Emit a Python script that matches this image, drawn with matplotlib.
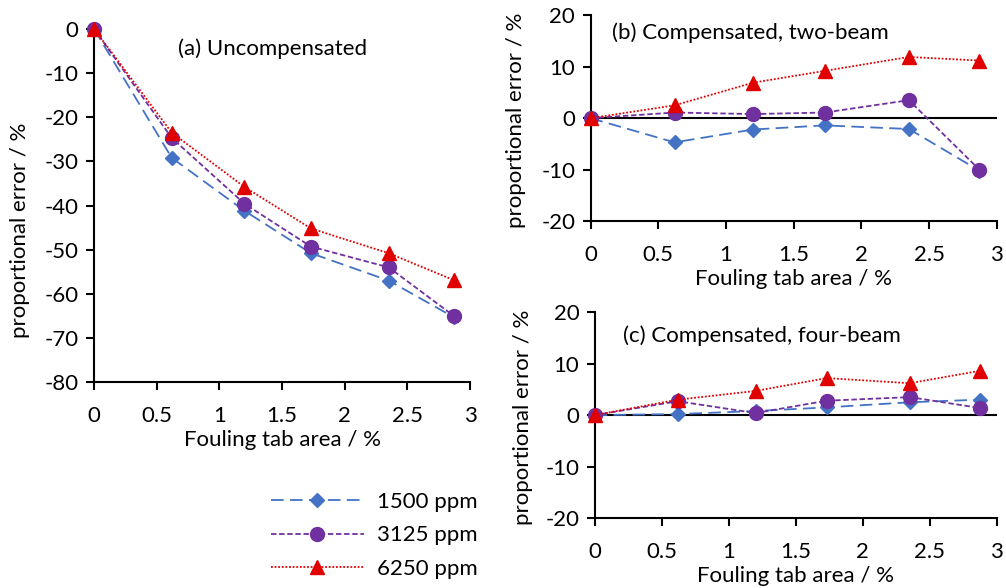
import matplotlib
matplotlib.use("Agg")
import matplotlib.pyplot as plt

plt.rcParams['font.family'] = ['Lato', 'DejaVu Sans']
plt.rcParams['axes.unicode_minus'] = False

area = [0, 0.62, 1.2, 1.73, 2.35, 2.87]
series = ["1500 ppm", "3125 ppm", "6250 ppm"]

uncomp = {
    "1500 ppm": [0, -29.2, -41.2, -50.8, -57.0, -65.3],
    "3125 ppm": [0, -24.7, -39.6, -49.3, -54.0, -65.0],
    "6250 ppm": [0, -23.5, -35.8, -45.2, -50.8, -56.9],
}
two_beam = {
    "1500 ppm": [0, -4.7, -2.2, -1.4, -2.1, -10.2],
    "3125 ppm": [0, 1.1, 0.8, 1.1, 3.5, -10.0],
    "6250 ppm": [0, 2.5, 6.9, 9.2, 11.9, 11.2],
}
four_beam = {
    "1500 ppm": [0, 0.2, 0.8, 1.5, 2.5, 3.0],
    "3125 ppm": [0, 2.7, 0.4, 2.8, 3.5, 1.4],
    "6250 ppm": [0, 3.0, 4.7, 7.2, 6.2, 8.6],
}

styles = {
    "1500 ppm": dict(color='#4472C4', marker='D', ms=7, dashes=(7, 3.5)),
    "3125 ppm": dict(color='#7030A0', marker='o', ms=10, dashes=(3, 1.5)),
    "6250 ppm": dict(color='#E00000', marker='^', ms=10, dashes=(1, 1)),
}

FS = 16


def style_axes(ax, ylim, yticks, ylab_x, ylab_y):
    ax.set_xlim(0, 3)
    ax.set_ylim(*ylim)
    ax.set_yticks(yticks)
    ax.set_xticks([0, 0.5, 1, 1.5, 2, 2.5, 3])
    ax.set_xticklabels(['0', '0.5', '1', '1.5', '2', '2.5', '3'])
    for s in ['top', 'right']:
        ax.spines[s].set_visible(False)
    for s in ['left', 'bottom']:
        ax.spines[s].set_linewidth(1.5)
    ax.tick_params(labelsize=FS, width=1.5, length=6, direction='out')
    ax.tick_params(axis='x', pad=11)
    ax.tick_params(axis='y', pad=5)
    ax.set_xlabel("Fouling tab area / %", fontsize=FS, labelpad=3)
    ax.set_ylabel("proportional error / %", fontsize=FS)
    ax.yaxis.set_label_coords(ylab_x, ylab_y)


def plot_panel(ax, data):
    for name in series:
        st = styles[name]
        ax.plot(area, data[name], color=st['color'], marker=st['marker'],
                markersize=st['ms'], dashes=st['dashes'], linewidth=1.3,
                label=name, clip_on=False, zorder=3)


fig = plt.figure(figsize=(10.06, 5.88), dpi=100)
ax_a = fig.add_axes([0.0934, 0.350, 0.374, 0.601])
ax_b = fig.add_axes([0.587, 0.624, 0.404, 0.350])
ax_c = fig.add_axes([0.591, 0.119, 0.400, 0.350])

plot_panel(ax_a, uncomp)
style_axes(ax_a, (-80, 0), range(-80, 1, 10), -0.17, 0.43)
ax_a.text(0.223, 0.943, "(a) Uncompensated", transform=ax_a.transAxes,
          fontsize=FS, va='center')

for ax, data, title, tx, ty, lx in [
        (ax_b, two_beam, "(b) Compensated, two-beam", 0.054, 0.917, -0.158),
        (ax_c, four_beam, "(c) Compensated, four-beam", 0.07, 0.888, -0.154)]:
    ax.axhline(0, color='black', linewidth=1.5, zorder=2)
    plot_panel(ax, data)
    style_axes(ax, (-20, 20), range(-20, 21, 10), lx, 0.49)
    ax.text(tx, ty, title, transform=ax.transAxes, fontsize=FS, va='center')

handles, labels = ax_a.get_legend_handles_labels()
fig.legend(handles, labels, loc='upper left', bbox_to_anchor=(0.258, 0.183),
           frameon=False, fontsize=FS, handlelength=4.2, handletextpad=0.6,
           labelspacing=0.62, borderpad=0, bbox_transform=fig.transFigure)

fig.savefig("out.png", dpi=100)
